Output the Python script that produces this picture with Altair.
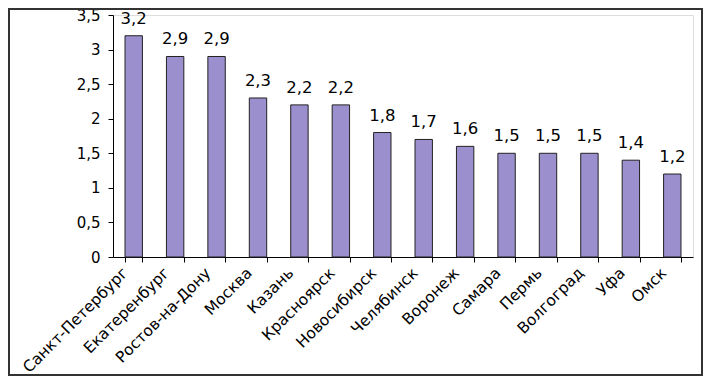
import altair as alt
import pandas as pd

cities = ["Санкт-Петербург", "Екатеренбург", "Ростов-на-Дону", "Москва", "Казань",
          "Красноярск", "Новосибирск", "Челябинск", "Воронеж", "Самара", "Пермь",
          "Волгоград", "Уфа", "Омск"]
values = [3.2, 2.9, 2.9, 2.3, 2.2, 2.2, 1.8, 1.7, 1.6, 1.5, 1.5, 1.5, 1.4, 1.2]
y_ticks = [0, 0.5, 1, 1.5, 2, 2.5, 3, 3.5]

df = pd.DataFrame({"city": cities, "value": values})
df["label"] = [str(v).replace(".", ",") for v in values]

FONT = "DejaVu Sans"

x = alt.X("city:N", sort=cities, title=None,
          scale=alt.Scale(paddingInner=0.58, paddingOuter=0.29),
          axis=alt.Axis(labelAngle=-45, labelAlign="right", labelBaseline="middle",
                        labelOffset=-9, labelPadding=8, labelFontSize=15.5,
                        labelFont=FONT, labelColor="black", tickBand="extent",
                        tickSize=5, tickColor="black", domainColor="black",
                        labelOverlap=False))
y = alt.Y("value:Q", title=None,
          scale=alt.Scale(domain=[0, 3.5], nice=False),
          axis=alt.Axis(values=y_ticks,
                        labelExpr="replace(format(datum.value, '~g'), '.', ',')",
                        labelFontSize=15, labelFont=FONT, labelColor="black",
                        tickSize=5, tickColor="black", domainColor="black",
                        labelPadding=8, grid=False))

base = alt.Chart(df)

bars = base.mark_bar(color="#9b8fce", stroke="#222222", strokeWidth=1).encode(x=x, y=y)
labels = base.mark_text(baseline="bottom", dy=-9, fontSize=16.5, font=FONT,
                        color="black").encode(x=x, y=y, text="label:N")

frame = alt.Chart(alt.Data(values=[{"a": 1}])).mark_rect(
    fillOpacity=0, stroke="#333333", strokeWidth=2
).encode(x=alt.value(-104), x2=alt.value(589), y=alt.value(-6), y2=alt.value(360))

chart = alt.layer(bars, labels, frame).properties(
    width=580, height=242,
    autosize=alt.AutoSizeParams(type="none"),
    padding={"left": 105, "top": 7, "right": 10, "bottom": 119},
).configure_view(stroke="#a0a0a0", strokeWidth=2).configure(background="white")

chart.save("out.html", embed_options={"renderer": "svg", "actions": False})
